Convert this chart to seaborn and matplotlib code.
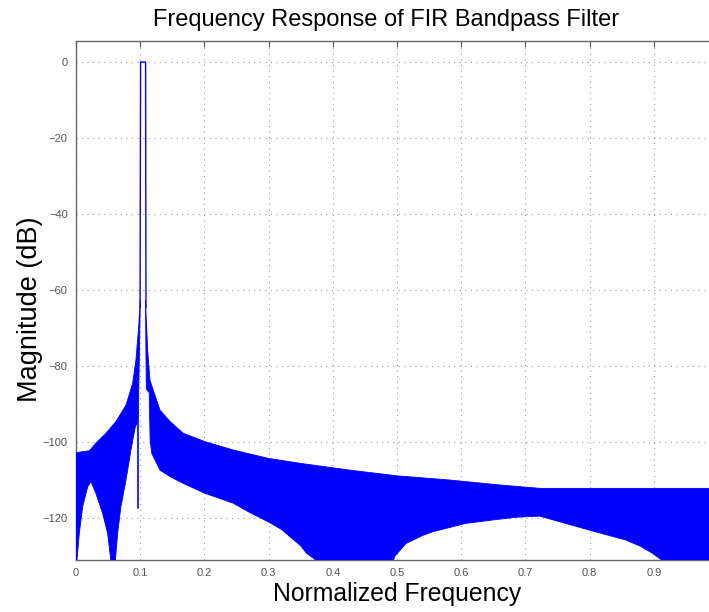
import numpy as np
import pandas as pd
import matplotlib
matplotlib.use("Agg")
import matplotlib.pyplot as plt
import seaborn as sns

# Upper envelope of the (densely oscillating) magnitude response, left of passband (dB)
upper_freq = [0.0, 0.0208, 0.0311, 0.0467, 0.0623, 0.0779, 0.0882, 0.0934, 0.0976, 0.1002]
upper_db = [-102.8, -102.3, -100.3, -97.7, -94.6, -90.3, -84.6, -78.4, -69.7, -62.6]
# Upper envelope right of passband
upper_freq_r = [0.1082, 0.1116, 0.1152, 0.1246, 0.1308, 0.1464, 0.1671, 0.2009, 0.245,
                0.2995, 0.3488, 0.4267, 0.50, 0.582, 0.66, 0.7225, 0.80, 0.90, 1.0]
upper_db_r = [-62.6, -75.8, -83.7, -88.5, -91.6, -94.6, -97.7, -99.9, -102.1,
              -104.3, -105.6, -107.4, -108.9, -110.0, -111.3, -112.2, -112.2, -112.2, -112.2]
# Lower envelope left of passband (values below the axis are clipped)
lower_freq = [0.0, 0.0015, 0.0052, 0.0104, 0.0182, 0.0234, 0.031, 0.0415, 0.0493, 0.0545,
              0.0612, 0.0649, 0.070, 0.0779, 0.0856, 0.0924, 0.095, 0.0972, 0.1002]
lower_db = [-140, -131, -124.0, -117.0, -111.8, -110.4, -113.5, -118.8, -124.0, -131.5,
            -131.5, -124.0, -117.0, -110.0, -102.1, -96.0, -95.1, -92.0, -62.6]
# Lower envelope right of passband
lower_freq_r = [0.1082, 0.1095, 0.114, 0.1155, 0.118, 0.123, 0.1308, 0.1464, 0.1671, 0.2009,
                0.245, 0.27, 0.2995, 0.32, 0.3332, 0.35, 0.3592, 0.3773, 0.4935, 0.497,
                0.514, 0.54, 0.556, 0.6076, 0.65, 0.6853, 0.7225, 0.76, 0.80, 0.8565,
                0.88, 0.898, 0.916, 1.0]
lower_db_r = [-62.6, -86.0, -87.0, -99.5, -103.0, -104.7, -107.4, -109.1, -110.9, -113.5,
              -116.1, -118.5, -121.0, -123.0, -124.9, -127.3, -129.3, -131.5, -131.5, -130.0,
              -126.7, -124.6, -123.6, -121.4, -120.5, -119.8, -119.5, -121.3, -123.2, -125.8,
              -127.5, -129.3, -131.5, -140]
# Passband main lobe trace
lobe_freq = [0.0998, 0.1006, 0.1084, 0.1090]
lobe_db = [-64.7, 0.0, 0.0, -64.7]
# Narrow notch spike near the left band edge
spike_freq = [0.0972, 0.0972]
spike_db = [-92.0, -117.4]

xticks = [0, 0.1, 0.2, 0.3, 0.4, 0.5, 0.6, 0.7, 0.8, 0.9]
xticklabels = ["0", "0.1", "0.2", "0.3", "0.4", "0.5", "0.6", "0.7", "0.8", "0.9"]
yticks = [0, -20, -40, -60, -80, -100, -120]

sns.set_style("white")
plt.rcParams["font.family"] = ["Liberation Sans", "DejaVu Sans"]
plt.rcParams["text.color"] = "black"
plt.rcParams["axes.labelcolor"] = "black"

fig = plt.figure(figsize=(7.09, 6.12), dpi=100)
# the axes run slightly past the right edge of the figure (as in the cropped original)
ax = fig.add_axes([76 / 709, 52 / 612, (718 - 76) / 709, (560 - 41) / 612])

blue = (0, 0, 1)
xs = np.array(upper_freq + lower_freq[::-1])
ys = np.array(upper_db + lower_db[::-1])
ax.fill(xs, ys, color=blue, lw=0.6, zorder=3)
xs = np.array(upper_freq_r + lower_freq_r[::-1])
ys = np.array(upper_db_r + lower_db_r[::-1])
ax.fill(xs, ys, color=blue, lw=0.6, zorder=3)

lobe = pd.DataFrame({"f": lobe_freq, "db": lobe_db})
sns.lineplot(data=lobe, x="f", y="db", sort=False, estimator=None, color=blue, lw=1.0, ax=ax, zorder=4)
spike = pd.DataFrame({"f": spike_freq, "db": spike_db})
sns.lineplot(data=spike, x="f", y="db", sort=False, estimator=None, color=blue, lw=1.2, ax=ax, zorder=4)

ax.set_xlim(0, 1.0)
ax.set_ylim(-131.05, 5.53)
ax.set_xticks(xticks)
ax.set_xticklabels(xticklabels)
ax.set_yticks(yticks)
ax.tick_params(direction="in", top=True, right=False, length=4, width=0.8,
               colors="#555555", labelsize=8, pad=6)
for s in ["left", "bottom", "top"]:
    ax.spines[s].set_color("#666666")
    ax.spines[s].set_linewidth(1.0)
ax.spines["right"].set_visible(False)
ax.grid(True, linestyle=(0, (1, 4)), color="#999999", lw=0.8)

fig.suptitle("Frequency Response of FIR Bandpass Filter", fontsize=17, color="black",
             x=(147 + 626) / 2 / 709, y=1 - 20 / 612, va="center")
ax.set_xlabel("Normalized Frequency", fontsize=17.8, labelpad=3)
ax.set_ylabel("Magnitude (dB)", fontsize=19.5)
ax.yaxis.set_label_coords(-0.052, (560 - 309) / 519)

fig.savefig("out.png", dpi=100)
